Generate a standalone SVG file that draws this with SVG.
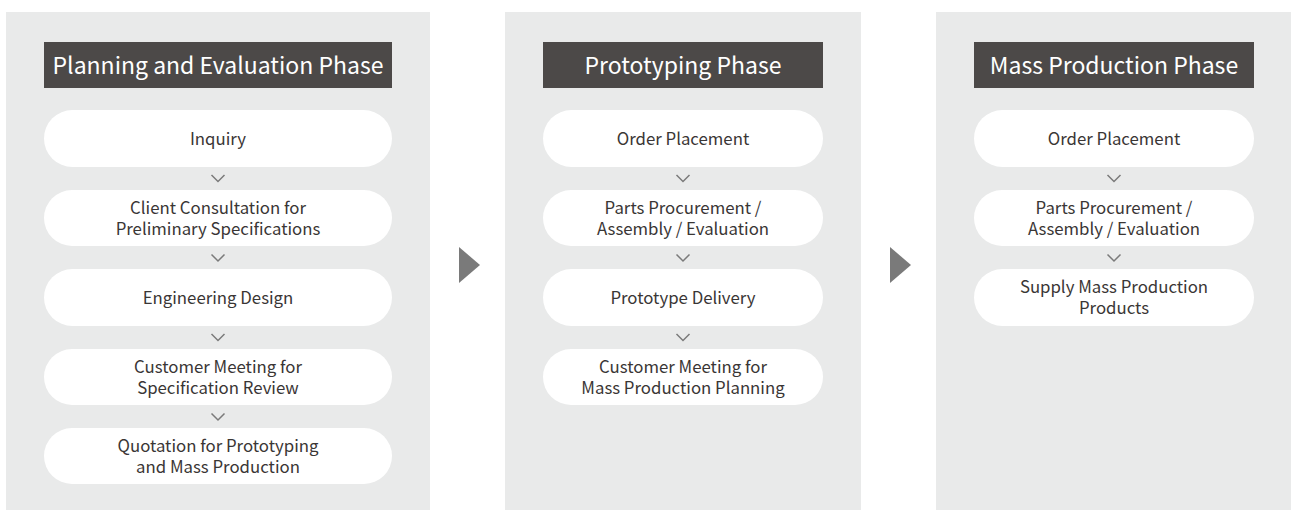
<svg xmlns="http://www.w3.org/2000/svg" width="1291" height="510" viewBox="0 0 1291 510">
<style>
.panel{fill:#e9eaea}
.hdr{fill:#4c4948}
.hdrt{fill:#ffffff;font-family:"Noto Sans CJK JP","Noto Sans",sans-serif;font-size:23px;text-anchor:middle}
.pill{fill:#ffffff}
.t{fill:#3a3635;font-family:"Noto Sans CJK JP","Noto Sans",sans-serif;font-size:16.8px;text-anchor:middle}
.chev{fill:none;stroke:#7a7a7a;stroke-width:1.5}
.tri{fill:#7a7a7a}
</style>
<rect width="1291" height="510" fill="#ffffff"/>
<g id="panel-planning">
<rect class="panel" x="6" y="12" width="424" height="498"/>
<rect class="hdr" x="44" y="42" width="348" height="46"/>
<text class="hdrt" x="218" y="73.5">Planning and Evaluation Phase</text>
</g>
<g id="panel-prototyping">
<rect class="panel" x="505" y="12" width="356" height="498"/>
<rect class="hdr" x="543" y="42" width="280" height="46"/>
<text class="hdrt" x="683" y="73.5">Prototyping Phase</text>
</g>
<g id="panel-mass">
<rect class="panel" x="936" y="12" width="355" height="498"/>
<rect class="hdr" x="974" y="42" width="280" height="46"/>
<text class="hdrt" x="1114" y="73.5">Mass Production Phase</text>
</g>
<g id="n-inquiry"><rect class="pill" x="44" y="110" width="348" height="57" rx="28.5"/><text class="t" x="218" y="144.5">Inquiry</text></g>
<g id="n-client"><rect class="pill" x="44" y="190" width="348" height="56" rx="28"/><text class="t" x="218" y="213.5">Client Consultation for<tspan x="218" dy="21">Preliminary Specifications</tspan></text></g>
<g id="n-eng"><rect class="pill" x="44" y="269" width="348" height="57" rx="28.5"/><text class="t" x="218" y="303.5">Engineering Design</text></g>
<g id="n-spec"><rect class="pill" x="44" y="349" width="348" height="56" rx="28"/><text class="t" x="218" y="372.5">Customer Meeting for<tspan x="218" dy="21">Specification Review</tspan></text></g>
<g id="n-quote"><rect class="pill" x="44" y="428" width="348" height="56" rx="28"/><text class="t" x="218" y="451.5">Quotation for Prototyping<tspan x="218" dy="21">and Mass Production</tspan></text></g>
<g id="n-order1"><rect class="pill" x="543" y="110" width="280" height="57" rx="28.5"/><text class="t" x="683" y="144.5">Order Placement</text></g>
<g id="n-parts1"><rect class="pill" x="543" y="190" width="280" height="56" rx="28"/><text class="t" x="683" y="213.5">Parts Procurement /<tspan x="683" dy="21">Assembly / Evaluation</tspan></text></g>
<g id="n-deliv"><rect class="pill" x="543" y="269" width="280" height="57" rx="28.5"/><text class="t" x="683" y="303.5">Prototype Delivery</text></g>
<g id="n-mpplan"><rect class="pill" x="543" y="349" width="280" height="56" rx="28"/><text class="t" x="683" y="372.5">Customer Meeting for<tspan x="683" dy="21">Mass Production Planning</tspan></text></g>
<g id="n-order2"><rect class="pill" x="974" y="110" width="280" height="57" rx="28.5"/><text class="t" x="1114" y="144.5">Order Placement</text></g>
<g id="n-parts2"><rect class="pill" x="974" y="190" width="280" height="56" rx="28"/><text class="t" x="1114" y="213.5">Parts Procurement /<tspan x="1114" dy="21">Assembly / Evaluation</tspan></text></g>
<g id="n-supply"><rect class="pill" x="974" y="269" width="280" height="57" rx="28.5"/><text class="t" x="1114" y="292.5">Supply Mass Production<tspan x="1114" dy="21">Products</tspan></text></g>
<g id="connectors">
<polyline class="chev" points="211.5,175 218,181.5 224.5,175"/>
<polyline class="chev" points="211.5,254.5 218,261 224.5,254.5"/>
<polyline class="chev" points="211.5,334 218,340.5 224.5,334"/>
<polyline class="chev" points="211.5,413.5 218,420 224.5,413.5"/>
<polyline class="chev" points="676.5,175 683,181.5 689.5,175"/>
<polyline class="chev" points="676.5,254.5 683,261 689.5,254.5"/>
<polyline class="chev" points="676.5,334 683,340.5 689.5,334"/>
<polyline class="chev" points="1107.5,175 1114,181.5 1120.5,175"/>
<polyline class="chev" points="1107.5,254.5 1114,261 1120.5,254.5"/>
<polygon class="tri" points="459,247 459,283 480,265"/>
<polygon class="tri" points="890,247 890,283 911,265"/>
</g>
</svg>
